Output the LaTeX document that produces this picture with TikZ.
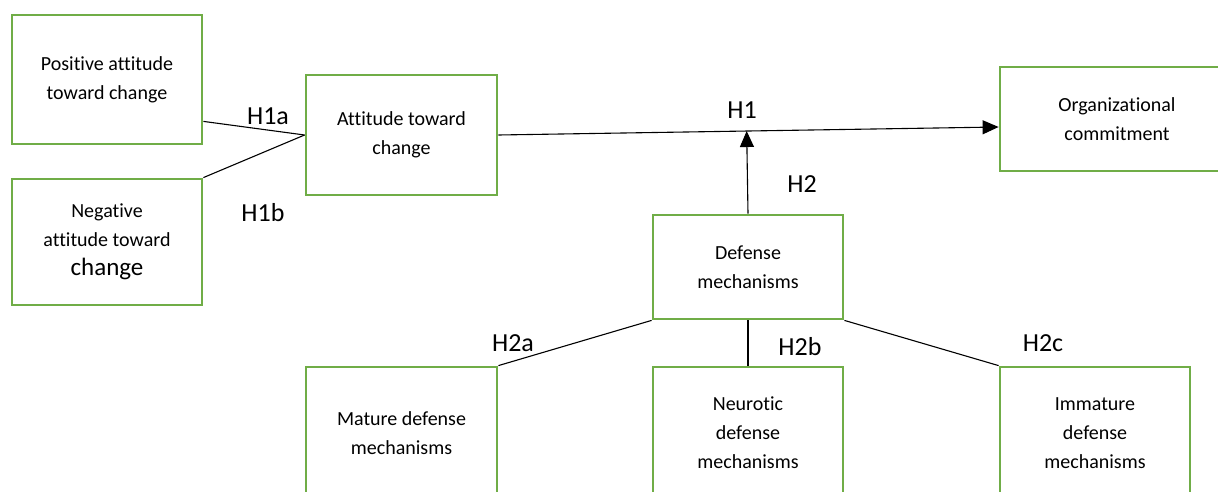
\documentclass[tikz,border=0pt]{standalone}
\usepackage{fontspec}
\setmainfont{Carlito}[Ligatures={NoCommon}]
\usetikzlibrary{arrows.meta,calc}
\definecolor{boxgreen}{RGB}{112,173,71}
\tikzset{
  box/.style={draw=boxgreen,line width=2.8pt,rectangle,inner sep=0pt,align=center,
    font=\fontsize{20}{29}\selectfont},
  lab/.style={font=\fontsize{26}{28}\selectfont,inner sep=0pt},
  conn/.style={line width=1.1pt,draw=black},
  arr/.style={conn,-{Triangle[length=16pt,width=14pt]}}
}
\begin{document}
\begin{tikzpicture}[x=1pt,y=1pt]
\clip (0,0) rectangle (1218,491);
\fill[white] (0,0) rectangle (1218,491);
\node[box,minimum width=190pt,minimum height=129pt] (pos) at (107,411.5) {Positive attitude\\toward change};
\node[box,minimum width=190pt,minimum height=126pt] (neg) at (107,249) {Negative\\attitude toward\\{\fontsize{25}{29}\selectfont change}};
\node[box,minimum width=191pt,minimum height=120pt] (att) at (401.5,356) {Attitude toward\\change};
\node[box,minimum width=234pt,minimum height=104pt] (org) at (1117,372) {Organizational\\commitment};
\node[box,minimum width=190pt,minimum height=104pt] (def) at (748,224) {Defense\\mechanisms};
\node[box,minimum width=191pt,minimum height=132pt] (mat) at (401.5,58) {Mature defense\\mechanisms};
\node[box,minimum width=190pt,minimum height=132pt] (neu) at (748,58) {Neurotic\\defense\\mechanisms};
\node[box,minimum width=190pt,minimum height=132pt] (imm) at (1095,58) {Immature\\defense\\mechanisms};
\coordinate (orgin) at ([yshift=-8pt]org.west);
\coordinate (posout) at ([yshift=24pt]pos.south east);
\draw[conn] (posout) -- (att.west);
\draw[conn] (neg.north east) -- (att.west);
\draw[arr] (att.east) -- (orgin);
\coordinate (junc) at ($(att.east)!(def.north)!(orgin)$);
\draw[arr] (def.north) -- (junc);
\draw[conn] (def.south west) -- (mat.north east);
\draw[conn] (def.south) -- (neu.north);
\draw[conn] (def.south east) -- (imm.north west);
\node[lab] (h1a) at (268,375) {H1a};
\node[lab] (h1b) at (263,278) {H1b};
\node[lab] (h1) at (742,381) {H1};
\node[lab] (h2) at (802,307) {H2};
\node[lab] (h2a) at (513,148) {H2a};
\node[lab] (h2b) at (800,144) {H2b};
\node[lab] (h2c) at (1043,148) {H2c};
\end{tikzpicture}
\end{document}
